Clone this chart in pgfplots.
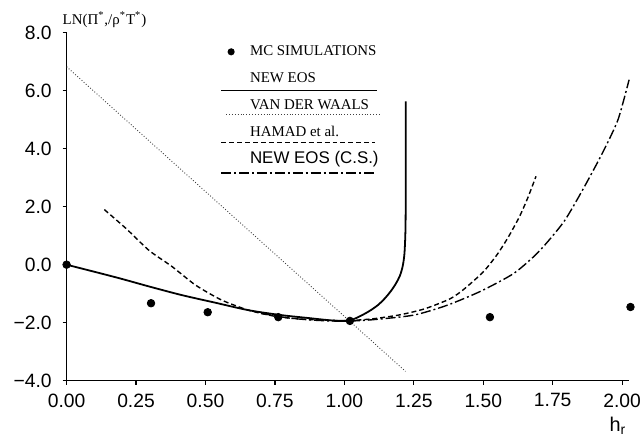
\documentclass[border=0pt]{standalone}
\usepackage{pgfplots}
\pgfplotsset{compat=1.18}
\usepackage{fontspec}
\setmainfont{Liberation Sans}
\newfontfamily\serif{Liberation Serif}
\pgfplotsset{
  legline/.style n args={3}{legend image code/.code={\path[draw=none,fill=none] (0pt,-1pt) rectangle (12.25pt,1pt); \draw[##1,overlay] (#1,#2) -- (#3,#2);}},
  legdot/.style={legend image code/.code={\path[draw=none,fill=none] (0pt,-1pt) rectangle (12.25pt,1pt); \fill[black,draw=none] (4.75pt,0pt) circle (1.8pt);}},
}
\begin{document}
\begin{tikzpicture}
\begin{axis}[
  name=ax,
  scale only axis,
  width=283pt, height=175pt,
  xmin=0, xmax=2.025, ymin=-4, ymax=8,
  clip=false,
  axis x line=bottom, axis y line=left,
  axis line style={-, line width=0.7pt},
  tick style={black, line width=0.6pt},
  major tick length=2pt, tick align=outside,
  xtick={0,0.25,0.5,0.75,1,1.25,1.5,1.75,2},
  xticklabels={0.00,0.25,0.50,0.75,1.00,1.25,1.50,1.75,2.00},
  ytick={-4,-2,0,2,4,6,8},
  yticklabels={−4.0,−2.0,0.0,2.0,4.0,6.0,8.0},
  ticklabel style={font=\fontsize{9.7}{12}\selectfont},
  yticklabel style={xshift=-2pt},
  xticklabel style={yshift=-1pt},
  xlabel={h\textsubscript{r}},
  ylabel={\serif LN(Π\textsuperscript{*},/ρ\textsuperscript{*}T\textsuperscript{*})},
  every axis x label/.style={at={(rel axis cs:0.98,0)}, anchor=center, yshift=-22.5pt, font=\fontsize{10}{12}\selectfont},
  every axis y label/.style={at={(rel axis cs:0,1)}, anchor=west, xshift=-5.5pt, yshift=6.5pt, font=\fontsize{7.5}{9}\selectfont},
  legend cell align=left,
  legend style={at={(axis cs:0.557,7.70)}, anchor=north west, draw=none, fill=none,
    inner xsep=0pt, inner ysep=0pt, row sep=3.5pt,
    nodes={inner sep=2pt, text height=5pt, text depth=1pt},
    font=\fontsize{7.5}{9}\selectfont},
]
% MC simulations
\addplot[only marks, mark=*, mark size=1.9pt, black, legdot]
  coordinates {(0,0) (0.304,-1.33) (0.508,-1.64) (0.762,-1.81) (1.02,-1.94) (1.524,-1.81) (2.03,-1.46)};
\addlegendentry{\serif MC SIMULATIONS}
% New EOS
\addplot[black, line width=0.9pt, smooth, tension=0.5, legline={-0.25pt}{-6pt}{78.25pt}]
  coordinates {(0,0) (0.179,-0.44) (0.30,-0.76) (0.415,-1.05) (0.53,-1.3) (0.655,-1.57) (0.773,-1.74) (0.87,-1.84) (0.95,-1.92) (1.0,-1.94) (1.03,-1.89) (1.06,-1.76) (1.09,-1.6) (1.12,-1.4) (1.145,-1.17) (1.166,-0.93) (1.185,-0.66) (1.2,-0.38) (1.21,-0.05) (1.216,0.35) (1.219,0.9) (1.2205,1.6) (1.221,3.5) (1.221,5.63)};
\addlegendentry{\serif NEW EOS}
% Van der Waals
\addplot[black!75, line width=0.45pt, dash pattern=on 0.45pt off 1.0pt, legline={2.25pt}{-4.5pt}{79.25pt}]
  coordinates {(0,6.83) (1.22,-3.68)};
\addlegendentry{\serif VAN DER WAALS}
% Hamad et al.
\addplot[black, line width=0.7pt, dash pattern=on 2.5pt off 1.5pt, smooth, tension=0.4, legline={-0.25pt}{-5pt}{77.25pt}]
  coordinates {(0.136,1.9) (0.215,1.24) (0.297,0.49) (0.379,-0.06) (0.465,-0.71) (0.558,-1.22) (0.655,-1.57) (0.75,-1.78) (0.85,-1.88) (1.0,-1.93) (1.1,-1.87) (1.2,-1.73) (1.29,-1.52) (1.38,-1.18) (1.43,-0.85) (1.5,-0.25) (1.55,0.35) (1.59,0.95) (1.63,1.65) (1.66,2.3) (1.69,3.05)};
\addlegendentry{\serif HAMAD et al.}
% New EOS (C.S.)
\addplot[black, line width=0.7pt, dash pattern=on 5pt off 1.5pt on 1pt off 1.5pt, smooth, tension=0.4, legline={-0.25pt}{-7pt}{77.25pt}]
  coordinates {(0.7,-1.68) (0.8,-1.84) (0.9,-1.92) (1.0,-1.95) (1.1,-1.9) (1.25,-1.74) (1.37,-1.4) (1.49,-0.92) (1.61,-0.3) (1.70,0.45) (1.79,1.48) (1.86,2.62) (1.93,3.87) (1.985,5.0) (2.025,6.38)};
\addlegendentry{\fontsize{8.5}{10}\selectfont NEW EOS (C.S.)}
\end{axis}
\pgfresetboundingbox
\path ([shift={(-33.5pt,-29pt)}]ax.south west) rectangle ([shift={(7pt,16.5pt)}]ax.north east);
\end{tikzpicture}
\end{document}
